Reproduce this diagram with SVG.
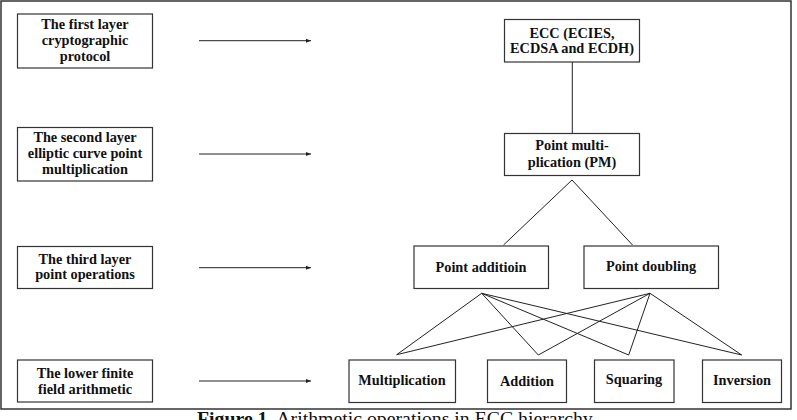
<svg xmlns="http://www.w3.org/2000/svg" width="797" height="420" viewBox="0 0 797 420">
<style>
.box{fill:#fff;stroke:#333;stroke-width:1.2}
.t{font-family:"Liberation Serif","Times New Roman",serif;font-weight:bold;font-size:14.3px;fill:#111;text-anchor:middle}
.ln{stroke:#222;stroke-width:1;fill:none}
.cap{font-family:"Liberation Serif","Times New Roman",serif;font-size:19.8px;fill:#111}
</style>
<defs>
<marker id="ah" viewBox="0 0 10 10" refX="10" refY="5" markerWidth="8" markerHeight="5" markerUnits="userSpaceOnUse" orient="auto">
<path d="M0,1 L10,5 L0,9 Z" fill="#222"/>
</marker>
</defs>
<rect x="1" y="1" width="790" height="408" fill="#fff" stroke="#333" stroke-width="1.5"/>
<g id="layer1"><rect class="box" x="17.5" y="14" width="135" height="54"/><text class="t" x="85" y="29">The first layer</text><text class="t" x="85" y="45">cryptographic</text><text class="t" x="85" y="61">protocol</text></g>
<g id="layer2"><rect class="box" x="17.5" y="127.5" width="135" height="53.5"/><text class="t" x="85" y="142">The second layer</text><text class="t" x="85" y="158">elliptic curve point</text><text class="t" x="85" y="174">multiplication</text></g>
<g id="layer3"><rect class="box" x="17.5" y="246.5" width="135" height="42"/><text class="t" x="85" y="263.5">The third layer</text><text class="t" x="85" y="279">point operations</text></g>
<g id="layer4"><rect class="box" x="17.5" y="360" width="135" height="42"/><text class="t" x="85" y="378">The lower finite</text><text class="t" x="85" y="394">field arithmetic</text></g>
<g id="ecc"><rect class="box" x="504.5" y="19.5" width="135" height="42.5"/><text class="t" x="572" y="38">ECC (ECIES,</text><text class="t" x="572" y="53">ECDSA and ECDH)</text></g>
<g id="pm"><rect class="box" x="504.5" y="133.5" width="135" height="42"/><text class="t" x="572" y="150">Point multi-</text><text class="t" x="572" y="167">plication (PM)</text></g>
<g id="pa"><rect class="box" x="414" y="246" width="134.5" height="42.5"/><text class="t" x="481" y="272">Point additioin</text></g>
<g id="pd"><rect class="box" x="584" y="246" width="134.5" height="42.5"/><text class="t" x="651" y="271">Point doubling</text></g>
<g id="mul"><rect class="box" x="349" y="360" width="106.5" height="42.5"/><text class="t" x="402" y="384.5">Multiplication</text></g>
<g id="add"><rect class="box" x="487.5" y="360" width="79" height="42.5"/><text class="t" x="527" y="385.5">Addition</text></g>
<g id="sq"><rect class="box" x="594.5" y="360" width="79.5" height="42.5"/><text class="t" x="634" y="384">Squaring</text></g>
<g id="inv"><rect class="box" x="702.5" y="360" width="79" height="42.5"/><text class="t" x="742" y="385">Inversion</text></g>
<g id="connectors">
<line class="ln" x1="199" y1="40.7" x2="311" y2="40.7" marker-end="url(#ah)"/>
<line class="ln" x1="199" y1="154" x2="311" y2="154" marker-end="url(#ah)"/>
<line class="ln" x1="199" y1="267.7" x2="311" y2="267.7" marker-end="url(#ah)"/>
<line class="ln" x1="199" y1="381" x2="311" y2="381" marker-end="url(#ah)"/>
<line class="ln" x1="572.3" y1="62" x2="572.3" y2="133.5" stroke="#444"/>
<polyline class="ln" points="503.5,245 572,180 632.5,245"/>
<line class="ln" x1="481.7" y1="293.3" x2="396.7" y2="354.7"/>
<line class="ln" x1="481.7" y1="293.3" x2="538.3" y2="355"/>
<line class="ln" x1="481.7" y1="293.3" x2="628.7" y2="355"/>
<line class="ln" x1="481.7" y1="293.3" x2="741.7" y2="355"/>
<line class="ln" x1="650" y1="293.3" x2="396.7" y2="354.7"/>
<line class="ln" x1="650" y1="293.3" x2="538.3" y2="355"/>
<line class="ln" x1="650" y1="293.3" x2="628.7" y2="355"/>
<line class="ln" x1="650" y1="293.3" x2="741.7" y2="355"/>
</g>
<text class="cap" x="197" y="425"><tspan font-weight="bold">Figure 1.</tspan> Arithmetic operations in ECC hierarchy</text>
</svg>
